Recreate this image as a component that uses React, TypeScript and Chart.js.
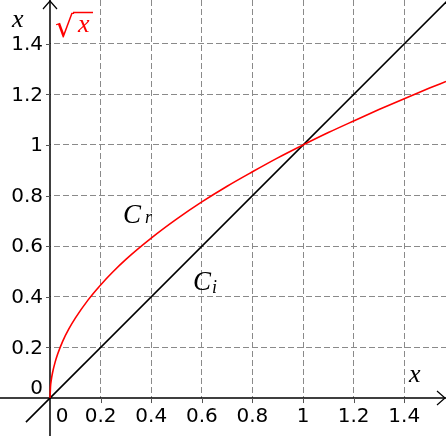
import React, { useEffect, useRef } from "react";
import { Chart, registerables } from "chart.js";

Chart.register(...registerables);

// Axis ranges (data units)
const xRange = [-0.1976, 1.565];
const yRange = [-0.150, 1.573];

// Grid / tick positions and labels
const gridTicks = [0.2, 0.4, 0.6, 0.8, 1, 1.2, 1.4];
const xTickLabels = ["0", "0.2", "0.4", "0.6", "0.8", "1", "1.2", "1.4"];
const xTickValues = [0, 0.2, 0.4, 0.6, 0.8, 1, 1.2, 1.4];
const yTickLabels = ["0", "0.2", "0.4", "0.6", "0.8", "1", "1.2", "1.4"];
const yTickValues = [0, 0.2, 0.4, 0.6, 0.8, 1, 1.2, 1.4];

// Red curve C_r
const crX = [0, 0.002, 0.005, 0.01, 0.02, 0.03, 0.05, 0.075, 0.1, 0.15, 0.2, 0.25, 0.3, 0.4, 0.5, 0.6, 0.7, 0.8, 0.9, 1, 1.1, 1.2, 1.3, 1.4, 1.5, 1.565];
const crY = [0, 0.045, 0.071, 0.1, 0.141, 0.173, 0.224, 0.274, 0.316, 0.387, 0.447, 0.5, 0.548, 0.632, 0.707, 0.775, 0.837, 0.894, 0.949, 1, 1.049, 1.095, 1.14, 1.183, 1.225, 1.251];

// Black line C_i
const ciX = [-0.095, 1.6];
const ciY = [-0.095, 1.6];

const overlay = {
  id: "overlay",
  beforeDatasetsDraw(chart: any) {
    const { ctx, scales } = chart;
    const xs = scales.x;
    const ys = scales.y;
    const x0 = xs.getPixelForValue(0);
    const y0 = ys.getPixelForValue(0);
    const W = chart.width;
    const H = chart.height;
    ctx.save();
    // clear grid outside the first quadrant
    ctx.fillStyle = "#fff";
    ctx.fillRect(0, 0, x0, H);
    ctx.fillRect(0, y0, W, H - y0);
    // axes
    ctx.strokeStyle = "#000";
    ctx.lineWidth = 1.5;
    ctx.beginPath();
    ctx.moveTo(0, y0);
    ctx.lineTo(W, y0);
    ctx.moveTo(x0, H);
    ctx.lineTo(x0, 0);
    ctx.stroke();
    // arrowheads
    ctx.lineWidth = 1.2;
    ctx.beginPath();
    ctx.moveTo(W - 9, y0 - 7);
    ctx.lineTo(W - 1, y0);
    ctx.lineTo(W - 9, y0 + 7);
    ctx.moveTo(x0 - 7, 9);
    ctx.lineTo(x0, 1);
    ctx.lineTo(x0 + 7, 9);
    ctx.stroke();
    // small tick marks
    ctx.strokeStyle = "#555";
    ctx.lineWidth = 1;
    ctx.beginPath();
    for (const v of gridTicks) {
      const px = Math.round(xs.getPixelForValue(v)) + 0.5;
      ctx.moveTo(px, y0);
      ctx.lineTo(px, y0 + 5);
      const py = Math.round(ys.getPixelForValue(v)) + 0.5;
      ctx.moveTo(x0 - 4, py);
      ctx.lineTo(x0, py);
    }
    ctx.stroke();
    // tick labels
    ctx.fillStyle = "#000";
    ctx.font = "20px 'DejaVu Sans'";
    ctx.textBaseline = "middle";
    ctx.textAlign = "center";
    xTickValues.forEach((v, i) => {
      let px = xs.getPixelForValue(v);
      if (v === 0) px += 12;
      ctx.fillText(xTickLabels[i], px, y0 + 19);
    });
    ctx.textAlign = "right";
    yTickValues.forEach((v, i) => {
      let py = ys.getPixelForValue(v);
      if (v === 0) py -= 10;
      ctx.fillText(yTickLabels[i], x0 - 7, py + 1);
    });
    ctx.restore();
  },
  afterDatasetsDraw(chart: any) {
    const { ctx, scales } = chart;
    const xs = scales.x;
    const ys = scales.y;
    const x0 = xs.getPixelForValue(0);
    const y0 = ys.getPixelForValue(0);
    ctx.save();
    ctx.textBaseline = "alphabetic";
    ctx.textAlign = "left";
    ctx.fillStyle = "#000";
    ctx.font = "italic 26px 'Liberation Serif'";
    ctx.fillText("x", x0 - 38, 27);
    ctx.fillText("x", 409, y0 - 16);
    ctx.font = "italic 27px 'Liberation Serif'";
    ctx.fillText("C", 123, 223);
    ctx.fillText("C", 193, 290);
    ctx.font = "italic 18px 'Liberation Serif'";
    ctx.fillText("r", 145, 223);
    ctx.fillText("i", 212, 293);
    // sqrt label
    ctx.fillStyle = "#ff0000";
    ctx.strokeStyle = "#ff0000";
    ctx.font = "30px 'DejaVu Sans'";
    ctx.fillText("√", 55, 37);
    ctx.font = "italic 26px 'Liberation Serif'";
    ctx.fillText("x", 78, 32);
    ctx.lineWidth = 1.5;
    ctx.beginPath();
    ctx.moveTo(73, 12.5);
    ctx.lineTo(93, 12.5);
    ctx.stroke();
    ctx.restore();
  },
};

export default function App() {
  const ref = useRef<HTMLCanvasElement>(null);
  useEffect(() => {
    if (!ref.current) return;
    const gridOpts = (ticksArr: number[]) => ({
      type: "linear" as const,
      grid: { color: "#8a8a8a", lineWidth: 1, drawTicks: false },
      border: { display: false, dash: [6, 3] },
      ticks: { display: false },
      afterBuildTicks: (axis: any) => {
        axis.ticks = ticksArr.map((v) => ({ value: v }));
      },
    });
    const chart = new Chart(ref.current, {
      type: "scatter",
      data: {
        datasets: [
          {
            label: "C_r",
            data: crX.map((x, i) => ({ x, y: crY[i] })),
            showLine: true,
            borderColor: "#ff0000",
            borderWidth: 1.6,
            pointRadius: 0,
            cubicInterpolationMode: "monotone",
          },
          {
            label: "C_i",
            data: ciX.map((x, i) => ({ x, y: ciY[i] })),
            showLine: true,
            borderColor: "#000000",
            borderWidth: 1.6,
            pointRadius: 0,
          },
        ],
      },
      options: {
        animation: false,
        responsive: false,
        maintainAspectRatio: false,
        layout: { padding: 0 },
        plugins: { legend: { display: false }, tooltip: { enabled: false } },
        scales: {
          x: { ...gridOpts(gridTicks), min: xRange[0], max: xRange[1] },
          y: { ...gridOpts(gridTicks), min: yRange[0], max: yRange[1] },
        },
      },
      plugins: [overlay],
    });
    return () => chart.destroy();
  }, []);
  return (
    <div style={{ position: "absolute", left: 0, top: 0, width: 446, height: 436, background: "#fff" }}>
      <canvas ref={ref} width={446} height={436} style={{ width: 446, height: 436 }} />
    </div>
  );
}
